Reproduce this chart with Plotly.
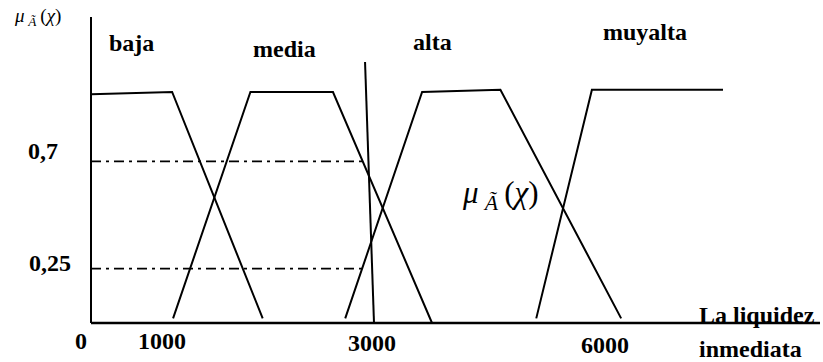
import plotly.graph_objects as go

W, H = 823, 362

# ---- data: x in liquidity units, y in membership degree ----
baja_x = [0, 860, 1820]
baja_y = [0.99, 1.0, 0.02]
media_x = [870, 1690, 2565, 3615]
media_y = [0.02, 1.0, 1.0, 0.0]
alta_x = [2695, 3510, 4340, 5620]
alta_y = [0.02, 1.0, 1.01, 0.02]
muyalta_x = [4720, 5310, 6700]
muyalta_y = [0.02, 1.01, 1.01]
corte_x = [2905, 3000]
corte_y = [1.13, 0.0]
levels = [0.7, 0.235]
level_labels = ["0,7", "0,25"]
level_end_x = 2890
tick_labels = ["0", "1000", "3000", "6000"]
set_names = ["baja", "media", "alta", "muyalta"]
axis_y_top = 1.325
axis_x_end = 7728

# ---- layout helpers (pixel -> paper) ----
def px(x):
    return x / W

def py(y):
    return 1 - y / H

X0, XK = 91, 283 / 3000   # pixel of x=0 and px per unit
Y0, YK = 323, 231          # pixel of y=0 and px per unit

fig = go.Figure()
line = dict(color="black", width=2)

for xs, ys in [(baja_x, baja_y), (media_x, media_y), (alta_x, alta_y),
               (muyalta_x, muyalta_y), (corte_x, corte_y)]:
    fig.add_trace(go.Scatter(x=xs, y=ys, mode="lines", line=line,
                             hoverinfo="skip", showlegend=False))

for lv in levels:
    fig.add_trace(go.Scatter(x=[0, level_end_x], y=[lv, lv], mode="lines",
                             line=dict(color="black", width=1.8, dash="10px,5px,3px,5px"),
                             hoverinfo="skip", showlegend=False))

# axes
fig.add_trace(go.Scatter(x=[0, 0], y=[0, axis_y_top], mode="lines",
                         line=dict(color="black", width=2), hoverinfo="skip", showlegend=False))
fig.add_trace(go.Scatter(x=[0, axis_x_end], y=[0, 0], mode="lines",
                         line=dict(color="black", width=2.6), hoverinfo="skip", showlegend=False))

bold = dict(family="Liberation Serif", size=24, color="black")
ann = []

def add(text, x, y, font, xanchor="center"):
    ann.append(dict(text=text, x=px(x), y=py(y), xref="paper", yref="paper",
                    showarrow=False, font=font, xanchor=xanchor, yanchor="middle"))

for name, (x, y) in zip(set_names, [(131, 43), (284, 49), (432, 42), (645, 32)]):
    add("<b>%s</b>" % name, x, y, bold)

for t, (x, y) in zip(tick_labels, [(81, 341), (162, 341), (372, 343), (605, 345)]):
    add("<b>%s</b>" % t, x, y, bold)

for t, (x, y) in zip(level_labels, [(43, 151), (50, 263)]):
    add("<b>%s</b>" % t, x, y, bold)

add("<b>La liquidez</b>", 757, 315, bold)
add("<b>inmediata</b>", 750, 349, bold)

mu = "<i>μ</i>\u2009<sub><i>Ã</i></sub>\u2009(<i>χ</i>)"
add(mu, 37, 17, dict(family="Liberation Serif", size=19, color="black"))
add(mu, 500, 195, dict(family="Liberation Serif", size=31, color="black"))

fig.update_layout(
    width=W, height=H, margin=dict(l=0, r=0, t=0, b=0),
    paper_bgcolor="white", plot_bgcolor="white",
    xaxis=dict(range=[-X0 / XK, (W - X0) / XK], visible=False, fixedrange=True),
    yaxis=dict(range=[(Y0 - H) / YK, Y0 / YK], visible=False, fixedrange=True),
    annotations=ann,
)

fig.write_html("out.html", config={"displayModeBar": False},
               post_script="document.body.style.margin='0';document.body.style.overflow='hidden';")
